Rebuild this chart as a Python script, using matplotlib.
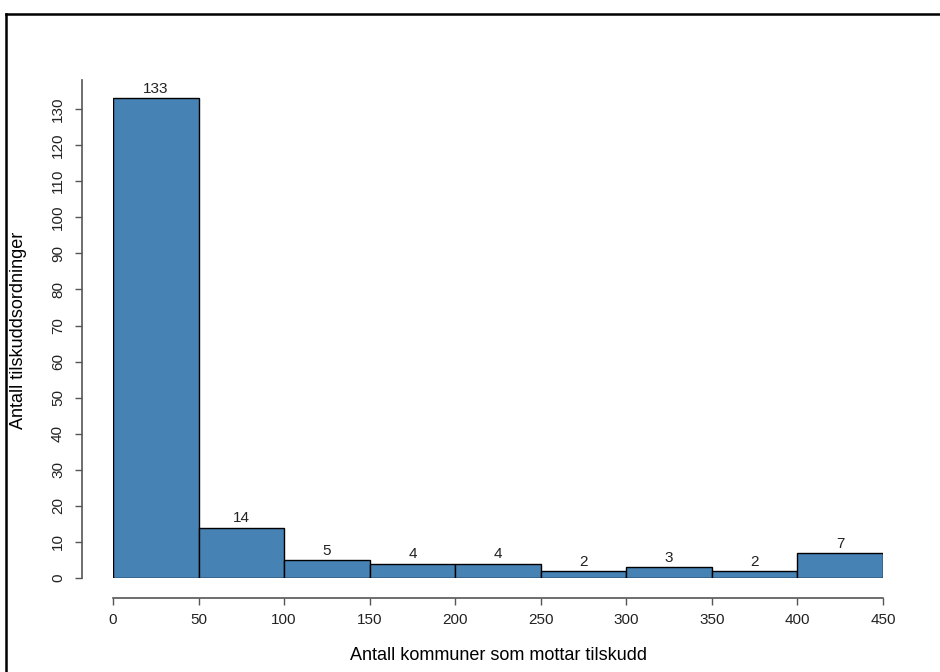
import numpy as np
import matplotlib
matplotlib.use('Agg')
from matplotlib import pyplot as plt
from matplotlib.lines import Line2D

# histogram bins and counts
bin_edges = [0, 50, 100, 150, 200, 250, 300, 350, 400, 450]
counts = [133, 14, 5, 4, 4, 2, 3, 2, 7]
x_ticks = [0, 50, 100, 150, 200, 250, 300, 350, 400, 450]
y_ticks = [0, 10, 20, 30, 40, 50, 60, 70, 80, 90, 100, 110, 120, 130]

plt.rcParams['font.family'] = ['Liberation Sans', 'DejaVu Sans']

W, H = 940, 672
PX = 0.72  # points per pixel at dpi 100
fig = plt.figure(figsize=(W / 100, H / 100), dpi=100)

# axes placed so that 0..450 maps to x=113..883 px and 0..140 to y=578..73 px
ax = fig.add_axes([113 / W, (H - 578) / H, 770 / W, 505 / H])
ax.set_xlim(0, 450)
ax.set_ylim(0, 140)

lefts = np.array(bin_edges[:-1])
widths = np.diff(bin_edges)
ax.bar(lefts, counts, width=widths, align='edge', color='#4682B4',
       edgecolor='black', linewidth=1.0)

for l, w, c in zip(lefts, widths, counts):
    ax.text(l + w / 2, c + 0.6, str(c), ha='center', va='bottom',
            fontsize=11, color='#222222')

for side in ['top', 'right']:
    ax.spines[side].set_visible(False)
ax.spines['left'].set_position(('outward', 31 * PX))
ax.spines['left'].set_bounds(0, 138)
ax.spines['bottom'].set_position(('outward', 20 * PX))
ax.spines['bottom'].set_bounds(0, 450)
for side in ['left', 'bottom']:
    ax.spines[side].set_color('#555555')
    ax.spines[side].set_linewidth(1.2)

ax.set_xticks(x_ticks)
ax.set_yticks(y_ticks)
ax.set_yticklabels([str(v) for v in y_ticks], rotation=90, va='center')
ax.tick_params(axis='both', length=7 * PX, width=1, color='#555555',
               labelsize=11, labelcolor='#222222')
ax.tick_params(axis='x', pad=8 * PX)
ax.tick_params(axis='y', pad=10 * PX)

ax.set_xlabel('Antall kommuner som mottar tilskudd', fontsize=13)
ax.set_ylabel('Antall tilskuddsordninger', fontsize=13)
ax.xaxis.set_label_coords(0.5, -(655 - 578) / 505, transform=ax.transAxes)
ax.xaxis.label.set_va('center')
ax.yaxis.set_label_coords(-(113 - 19) / 770, (578 - 330) / 505)
ax.yaxis.label.set_va('center')

# outer frame (top and left edges visible)
fig.add_artist(Line2D([6 / W, 1], [1 - 14 / H, 1 - 14 / H], color='black',
                      linewidth=1.8, transform=fig.transFigure))
fig.add_artist(Line2D([6 / W, 6 / W], [0, 1 - 14 / H], color='black',
                      linewidth=1.8, transform=fig.transFigure))

fig.savefig('out.png', dpi=100)
